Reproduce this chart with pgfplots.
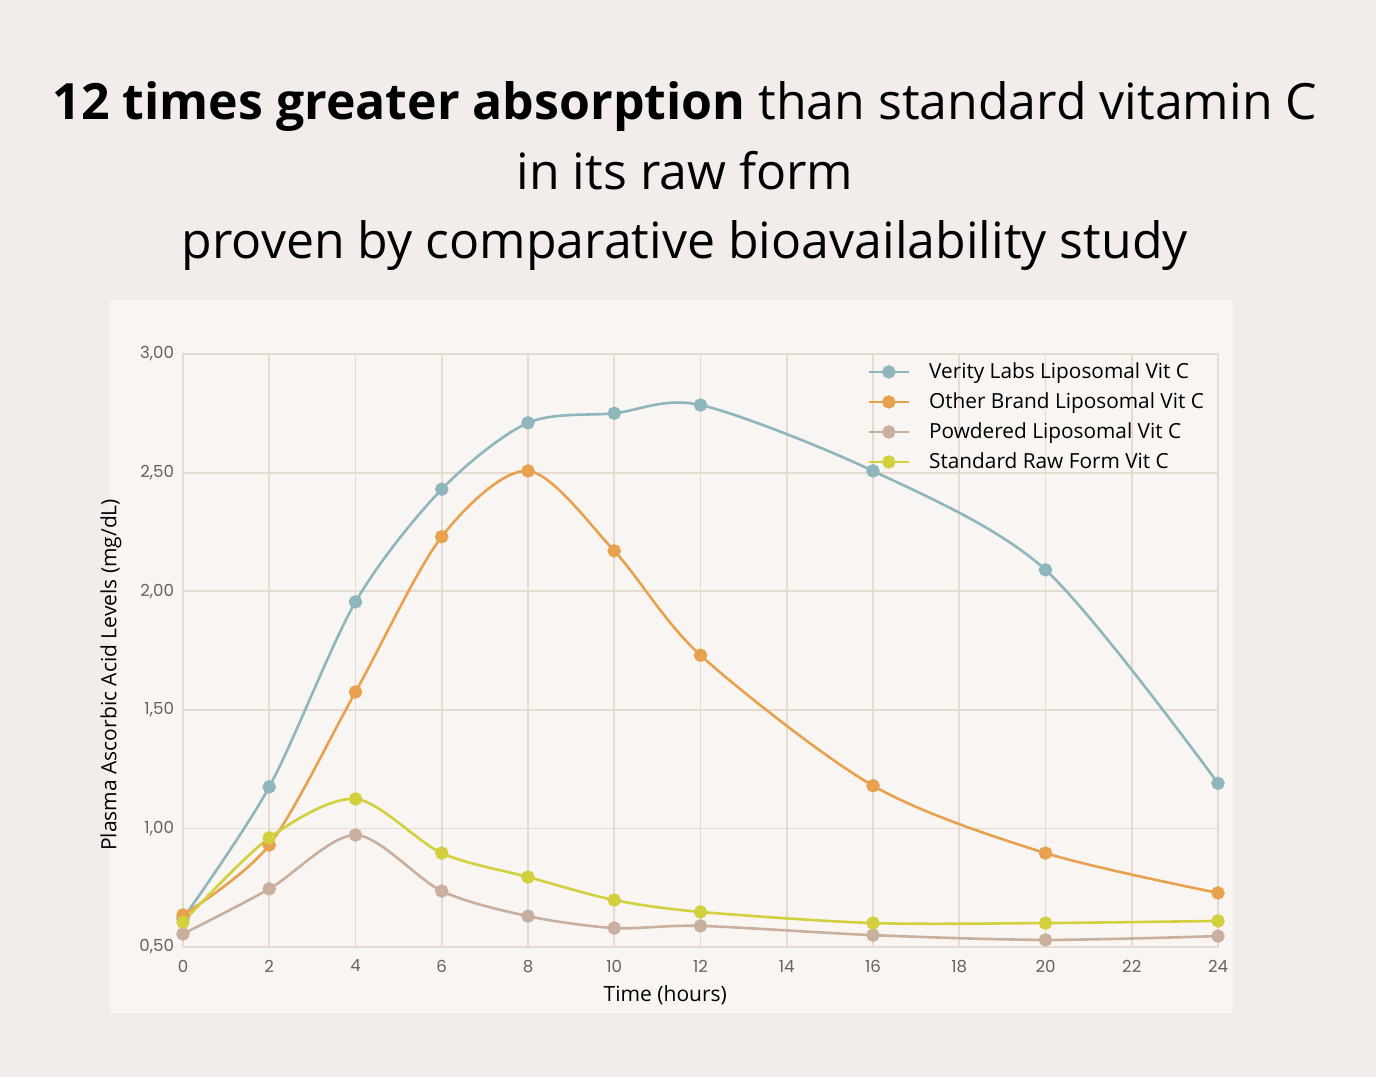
\documentclass[border=0pt]{standalone}
\usepackage{fontspec}
\setmainfont{Open Sans}
\newfontfamily\tickfont{Poppins}
\usepackage{pgfplots}
\pgfplotsset{compat=1.18}
\definecolor{outerbg}{HTML}{F2EDEA}
\definecolor{innerbg}{HTML}{F8F5F2}
\definecolor{gridc}{HTML}{E6DBD1}
\definecolor{tickc}{HTML}{6B615B}
\definecolor{cblue}{HTML}{8FB6BC}
\definecolor{corange}{HTML}{E8A14E}
\definecolor{ctan}{HTML}{C9AF9E}
\definecolor{cyellow}{HTML}{D3D03E}
\begin{document}
\begin{tikzpicture}
\fill[outerbg] (0,0) rectangle (688pt,538.5pt);
\useasboundingbox (0,0) rectangle (688pt,538.5pt);
\fill[innerbg] (55pt,32pt) rectangle (616.5pt,388.5pt);
\node[anchor=base,font=\fontsize{25}{30}\selectfont] at (342.5pt,478.5pt) {\textbf{12 times greater absorption} than standard vitamin C};
\node[anchor=base,font=\fontsize{25}{30}\selectfont] at (342.5pt,443.5pt) {in its raw form};
\node[anchor=base,font=\fontsize{25}{30}\selectfont] at (342.5pt,409pt) {proven by comparative bioavailability study};
\begin{axis}[
  at={(91.5pt,65pt)}, anchor=south west,
  scale only axis, width=517.5pt, height=296.5pt,
  xmin=0, xmax=24, ymin=0.5, ymax=3.0,
  xtick={0,2,...,24}, ytick={0.5,1.0,1.5,2.0,2.5,3.0},
  grid=major, major grid style={gridc, line width=0.9pt},
  axis line style={gridc, line width=0.9pt},
  major tick length=0pt,
  ticklabel style={font=\tickfont\fontsize{8.3}{10}\selectfont, text=tickc},
  /pgf/number format/assume math mode=true,
  yticklabel style={/pgf/number format/fixed, /pgf/number format/fixed zerofill, /pgf/number format/precision=2, /pgf/number format/use comma, xshift=-1pt},
  xticklabel style={yshift=-3pt},
  xlabel={Time (hours)}, ylabel={Plasma Ascorbic Acid Levels (mg/dL)},
  label style={font=\fontsize{10.5}{12}\selectfont},
  xlabel style={at={(rel axis cs:0.466,-0.081)}, anchor=center},
  ylabel style={at={(rel axis cs:-0.0696,0.459)}, anchor=center, rotate=0},
  legend style={draw=none, fill=none, at={(rel axis cs:0.661,0.993)}, anchor=north west,
    font=\fontsize{10.4}{12}\selectfont, row sep=1.6pt, inner sep=0pt,
    /tikz/every odd column/.append style={column sep=7.5pt}},
  legend cell align=left,
  legend image code/.code={\draw[mark repeat=2,mark phase=2] plot coordinates {(0pt,0pt)(10pt,0pt)(20pt,0pt)};},
  every axis plot/.append style={line width=1.3pt, smooth, tension=0.5, mark=*, mark size=2.7pt},
  clip=false,
]
\addplot[cblue, mark options={fill=cblue, draw=cblue}] coordinates {(0,0.62)(2,1.175)(4,1.955)(6,2.43)(8,2.71)(10,2.75)(12,2.785)(16,2.507)(20,2.09)(24,1.19)};
\addlegendentry{Verity Labs Liposomal Vit C}
\addplot[corange, mark options={fill=corange, draw=corange}] coordinates {(0,0.635)(2,0.93)(4,1.575)(6,2.23)(8,2.507)(10,2.17)(12,1.73)(16,1.18)(20,0.896)(24,0.728)};
\addlegendentry{Other Brand Liposomal Vit C}
\addplot[ctan, mark options={fill=ctan, draw=ctan}] coordinates {(0,0.555)(2,0.745)(4,0.972)(6,0.736)(8,0.63)(10,0.58)(12,0.589)(16,0.55)(20,0.53)(24,0.546)};
\addlegendentry{Powdered Liposomal Vit C}
\addplot[cyellow, mark options={fill=cyellow, draw=cyellow}] coordinates {(0,0.605)(2,0.96)(4,1.124)(6,0.896)(8,0.795)(10,0.698)(12,0.648)(16,0.601)(20,0.601)(24,0.61)};
\addlegendentry{Standard Raw Form Vit C}
\end{axis}
\end{tikzpicture}
\end{document}
